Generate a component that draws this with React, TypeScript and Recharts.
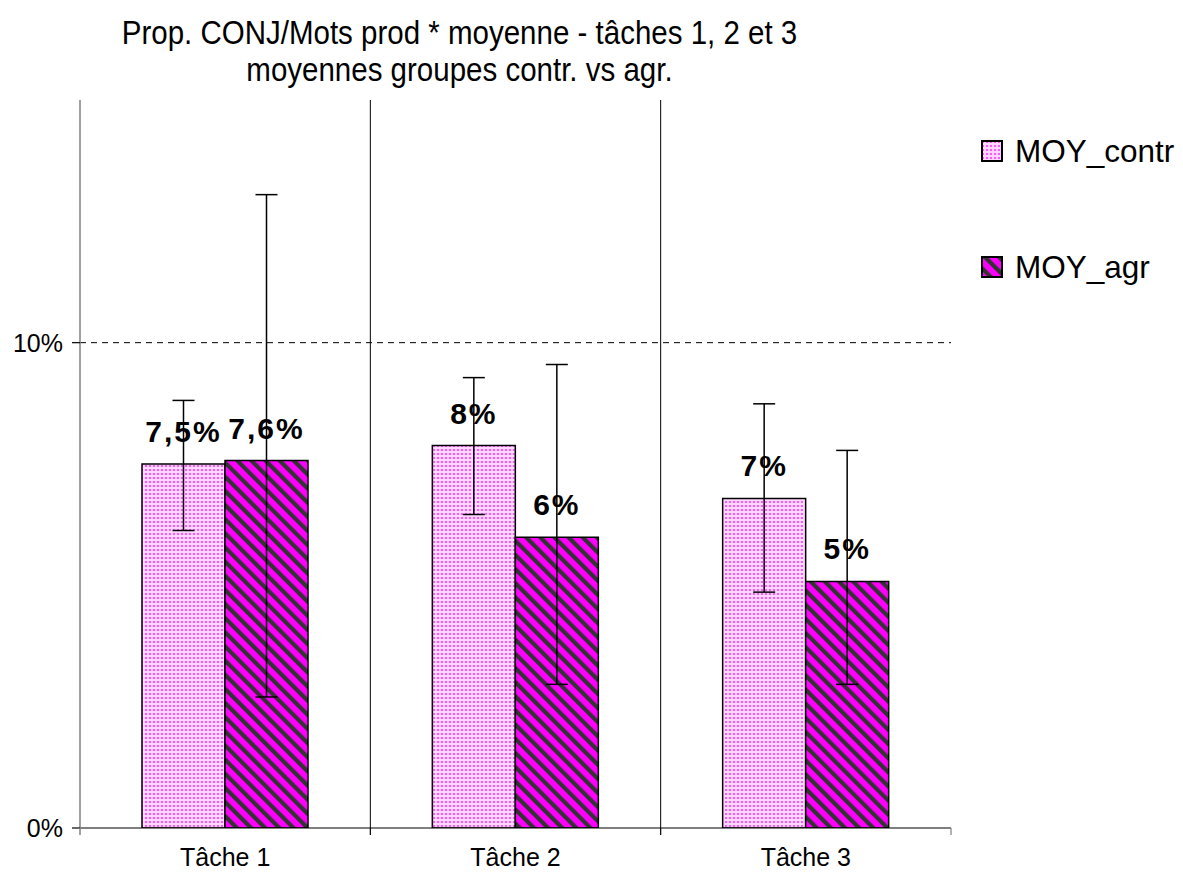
import React from 'react';
import { BarChart, Bar, XAxis, YAxis, CartesianGrid, ErrorBar, LabelList, Legend } from 'recharts';

const categories = ['Tâche 1', 'Tâche 2', 'Tâche 3'];
const moyContr = [0.075, 0.0788, 0.0679];
const moyAgr = [0.0757, 0.0599, 0.0508];
const contrLow = [0.0613, 0.0646, 0.0486];
const contrHigh = [0.0881, 0.0928, 0.0874];
const agrLow = [0.027, 0.0296, 0.0296];
const agrHigh = [0.1305, 0.0955, 0.0778];
const contrLabels = ['7,5%', '8%', '7%'];
const agrLabels = ['7,6%', '6%', '5%'];
const yTicks = [0, 0.1];
const yTickLabels = ['0%', '10%'];
const yMax = 0.15;
const gridValue = 0.1;
const seriesNames = ['MOY_contr', 'MOY_agr'];
const titleLines = ['Prop. CONJ/Mots prod * moyenne - tâches 1, 2 et 3', 'moyennes groupes contr. vs agr.'];

const FONT = '"Liberation Sans", Arial, sans-serif';

const data = categories.map((c, i) => ({
  name: c,
  contr: moyContr[i],
  agr: moyAgr[i],
  contrErr: [moyContr[i] - contrLow[i], contrHigh[i] - moyContr[i]],
  agrErr: [moyAgr[i] - agrLow[i], agrHigh[i] - moyAgr[i]],
  contrLabel: contrLabels[i],
  agrLabel: agrLabels[i],
}));

const renderValueLabel = (props: any) => {
  const { x, y, width, value } = props;
  return (
    <text
      x={Number(x) + Number(width) / 2}
      y={Number(y) - 22}
      textAnchor="middle"
      fontFamily={FONT}
      fontSize={30}
      fontWeight="bold"
      letterSpacing={2}
      fill="#000"
    >
      {value}
    </text>
  );
};

const XTick = (props: any) => {
  const { x, y, payload, index, visibleTicksCount } = props;
  const half = payload && payload.offset ? payload.offset : 145;
  const last = index === (visibleTicksCount ?? 3) - 1;
  return (
    <g>
      {index === 0 && <line x1={x - half} x2={x - half} y1={y - 7} y2={y} stroke="#808080" strokeWidth={1.5} />}
      <line x1={x + half} x2={x + half} y1={y - 7} y2={y} stroke={last ? '#808080' : '#000'} strokeWidth={1.2} />
      <text x={x} y={y + 31} textAnchor="middle" fontFamily={FONT} fontSize={25} fill="#000">
        {payload.value}
      </text>
    </g>
  );
};

const renderLegend = () => (
  <div style={{ fontFamily: FONT, fontSize: 31.5, color: '#000' }}>
    {seriesNames.map((n, i) => (
      <div key={n} style={{ display: 'flex', alignItems: 'center', height: 40, marginBottom: i === 0 ? 76 : 0 }}>
        <svg width={22} height={22} style={{ flex: 'none' }}>
          <rect x={1} y={1} width={20} height={20} fill={i === 0 ? 'url(#dotsPat)' : 'url(#stripePat)'} stroke="#000" strokeWidth={2} />
        </svg>
        <span style={{ marginLeft: 12 }}>{n}</span>
      </div>
    ))}
  </div>
);

export default function App() {
  return (
    <div style={{ position: 'relative', width: 1175, height: 870 }}>
      <div
        style={{
          position: 'absolute',
          left: 0,
          top: 6,
          width: 903,
          textAlign: 'center',
          fontFamily: FONT,
          fontSize: 29.5,
          lineHeight: '33px',
          color: '#000',
          zIndex: 2,
          transform: 'scaleY(1.12)',
          transformOrigin: 'top center',
        }}
      >
        {titleLines.map((t) => (
          <div key={t}>{t}</div>
        ))}
      </div>
      <BarChart
        width={1175}
        height={870}
        data={data}
        margin={{ top: 92, right: 30, bottom: 0, left: 12 }}
        barGap={0}
        barSize={83}
      >
        <defs>
          <pattern id="dotsPat" width={4} height={4} patternUnits="userSpaceOnUse">
            <rect width={4} height={4} fill="#ffd6ff" />
            <rect x={1} y={1} width={2} height={2} fill="#ff55ff" />
          </pattern>
          <pattern id="stripePat" width={10} height={10} patternUnits="userSpaceOnUse" patternTransform="rotate(-45)">
            <rect width={10} height={10} fill="#ff00ff" />
            <rect width={4.2} height={10} fill="#333333" />
          </pattern>
        </defs>
        <CartesianGrid
          vertical={false}
          stroke="#000"
          strokeDasharray="6 5"
          horizontalCoordinatesGenerator={({ offset }: any) => [
            offset.top + offset.height * (1 - gridValue / yMax),
          ]}
        />
        <CartesianGrid
          horizontal={false}
          stroke="#000"
          verticalCoordinatesGenerator={({ offset }: any) => [
            offset.left + offset.width / 3,
            offset.left + (2 * offset.width) / 3,
          ]}
        />
        <XAxis
          dataKey="name"
          axisLine={{ stroke: '#000', strokeWidth: 1.2 }}
          tickLine={false}
          tickSize={7}
          tickMargin={0}
          height={50}
          interval={0}
          tick={<XTick />}
        />
        <YAxis
          domain={[0, yMax]}
          ticks={yTicks}
          tickFormatter={(v: number) => yTickLabels[yTicks.indexOf(v)] ?? ''}
          width={60}
          axisLine={{ stroke: '#808080', strokeWidth: 1.5 }}
          tickLine={{ stroke: '#000', strokeWidth: 1.2 }}
          tickSize={8}
          tickMargin={9}
          tick={{ fontFamily: FONT, fontSize: 25, fill: '#000' }}
          allowDataOverflow
        />
        <YAxis
          yAxisId="right"
          orientation="right"
          domain={[0, yMax]}
          width={0}
          tick={false}
          tickLine={false}
          axisLine={{ stroke: '#808080', strokeWidth: 1.5 }}
        />
        <Legend
          layout="vertical"
          align="right"
          verticalAlign="top"
          content={renderLegend}
          wrapperStyle={{ top: 123, right: 0, width: 202 }}
        />
        <Bar dataKey="contr" name={seriesNames[0]} fill="url(#dotsPat)" stroke="#000" strokeWidth={1.5} isAnimationActive={false}>
          <ErrorBar dataKey="contrErr" width={11} stroke="#000" strokeWidth={1.5} direction="y" />
          <LabelList dataKey="contrLabel" content={renderValueLabel} />
        </Bar>
        <Bar dataKey="agr" name={seriesNames[1]} fill="url(#stripePat)" stroke="#000" strokeWidth={1.5} isAnimationActive={false}>
          <ErrorBar dataKey="agrErr" width={11} stroke="#000" strokeWidth={1.5} direction="y" />
          <LabelList dataKey="agrLabel" content={renderValueLabel} />
        </Bar>
      </BarChart>
    </div>
  );
}
